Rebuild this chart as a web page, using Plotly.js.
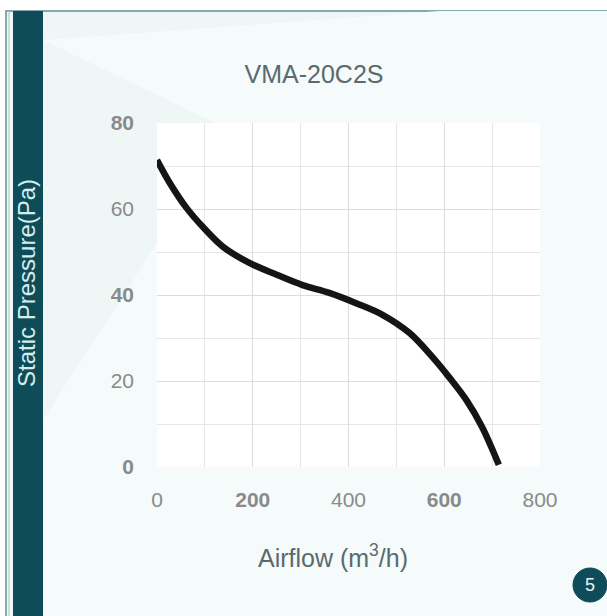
<!DOCTYPE html>
<html>
<head>
<meta charset="utf-8">
<script src="https://cdn.plot.ly/plotly-3.0.1.min.js"></script>
<style>html,body{margin:0;padding:0;background:#fff;}#chart{width:607px;height:616px;}</style>
</head>
<body>
<div id="chart"></div>
<script>
// Data
const airflow = [0, 27, 62, 96, 138, 194, 250, 304, 360, 416, 471, 527, 575, 610, 646, 679, 714];
const pressure = [71.4, 66, 60.2, 55.8, 51.2, 47.4, 44.7, 42.3, 40.5, 38.1, 35.4, 31.2, 25.6, 20.9, 15.6, 9.3, 0.5];
const xTickVals = [0, 200, 400, 600, 800];
const xTickText = ['0', '<b>200</b>', '400', '<b>600</b>', '800'];
const yTickVals = [0, 20, 40, 60, 80];
const yTickText = ['<b>0</b>', '20', '<b>40</b>', '60', '<b>80</b>'];
const chartTitle = 'VMA-20C2S';
const xTitle = 'Airflow (m<sup>3</sup>/h)';
const yTitle = 'Static Pressure(Pa)';
const badge = '5';

// Geometry (pixels)
const W = 607, H = 616;
const L = 157, R = 540, T = 123, B = 467;
const pw = R - L, ph = B - T;
const px = v => (v - L) / pw;
const py = v => (B - v) / ph;

const trace = {
  x: airflow, y: pressure, type: 'scatter', mode: 'lines',
  line: {color: '#151515', width: 6.5, shape: 'spline', smoothing: 1},
  hoverinfo: 'skip'
};

const tickFont = {family: 'Liberation Sans, Arial, sans-serif', size: 21, color: '#8a8a8a'};

const layout = {
  width: W, height: H,
  margin: {l: L, r: W - R, t: T, b: H - B, pad: 0},
  paper_bgcolor: '#ffffff',
  plot_bgcolor: 'rgba(0,0,0,0)',
  showlegend: false,
  title: {
    text: chartTitle,
    x: 314 / W, xref: 'container', xanchor: 'center',
    y: 1 - 74 / H, yref: 'container', yanchor: 'middle',
    font: {family: 'Liberation Sans, Arial, sans-serif', size: 25, color: '#5a6a6e'}
  },
  xaxis: {
    range: [0, 800], tickvals: xTickVals, ticktext: xTickText,
    showgrid: true, gridcolor: '#dcdcdc', gridwidth: 1,
    minor: {dtick: 100, showgrid: true, gridcolor: '#e6e6e6', gridwidth: 1},
    zeroline: false, showline: false, ticks: '',
    ticklabelstandoff: 18,
    tickfont: tickFont, fixedrange: true
  },
  yaxis: {
    range: [0, 80], tickvals: yTickVals, ticktext: yTickText,
    showgrid: true, gridcolor: '#dcdcdc', gridwidth: 1,
    minor: {dtick: 10, showgrid: true, gridcolor: '#e6e6e6', gridwidth: 1},
    zeroline: false, showline: false, ticks: '',
    ticklabelstandoff: 22,
    tickfont: tickFont, fixedrange: true
  },
  shapes: [
    // panel background
    {type: 'rect', xref: 'paper', yref: 'paper', layer: 'below',
     x0: px(6), x1: px(W + 5), y0: py(H + 5), y1: py(11),
     fillcolor: '#eef7f6', line: {color: '#86a9ab', width: 2}},
    // lighter diagonal band
    {type: 'path', xref: 'paper', yref: 'paper', layer: 'below',
     path: `M ${px(43)} ${py(40)} L ${px(440)} ${py(11)} L ${px(W)} ${py(11)} L ${px(W)} ${py(H)} L ${px(43)} ${py(H)} L ${px(43)} ${py(420)} L ${px(230)} ${py(130)} Z`,
     fillcolor: '#f4fbfa', line: {width: 0}},
    // plot area white
    {type: 'rect', xref: 'paper', yref: 'paper', layer: 'below',
     x0: 0, x1: 1, y0: 0, y1: 1, fillcolor: '#ffffff', line: {width: 0}},
    // inner left line
    {type: 'line', xref: 'paper', yref: 'paper', layer: 'below',
     x0: px(9), x1: px(9), y0: py(H + 5), y1: py(11),
     line: {color: '#a9c7c6', width: 1}},
    // dark side bar
    {type: 'rect', xref: 'paper', yref: 'paper', layer: 'below',
     x0: px(13), x1: px(43), y0: py(H + 5), y1: py(11),
     fillcolor: '#0f4c59', line: {width: 0}},
    // badge circle
    {type: 'circle', xref: 'paper', yref: 'paper', layer: 'above',
     x0: px(573), x1: px(607), y0: py(602), y1: py(568),
     fillcolor: '#0f4c59', line: {color: '#0f4c59', width: 1}}
  ],
  annotations: [
    {text: yTitle, xref: 'paper', yref: 'paper', x: px(26), y: py(283),
     xanchor: 'center', yanchor: 'middle', textangle: -90, showarrow: false,
     font: {family: 'Liberation Sans, Arial, sans-serif', size: 24, color: '#d5ecea'}},
    {text: xTitle, xref: 'paper', yref: 'paper', x: px(333), y: py(556),
     xanchor: 'center', yanchor: 'middle', showarrow: false,
     font: {family: 'Liberation Sans, Arial, sans-serif', size: 25, color: '#5a6a6e'}},
    {text: badge, xref: 'paper', yref: 'paper', x: px(590), y: py(585),
     xanchor: 'center', yanchor: 'middle', showarrow: false,
     font: {family: 'Liberation Sans, Arial, sans-serif', size: 18, color: '#e8f4f3'}}
  ]
};

Plotly.newPlot('chart', [trace], layout, {staticPlot: true, displayModeBar: false});
</script>
</body>
</html>
